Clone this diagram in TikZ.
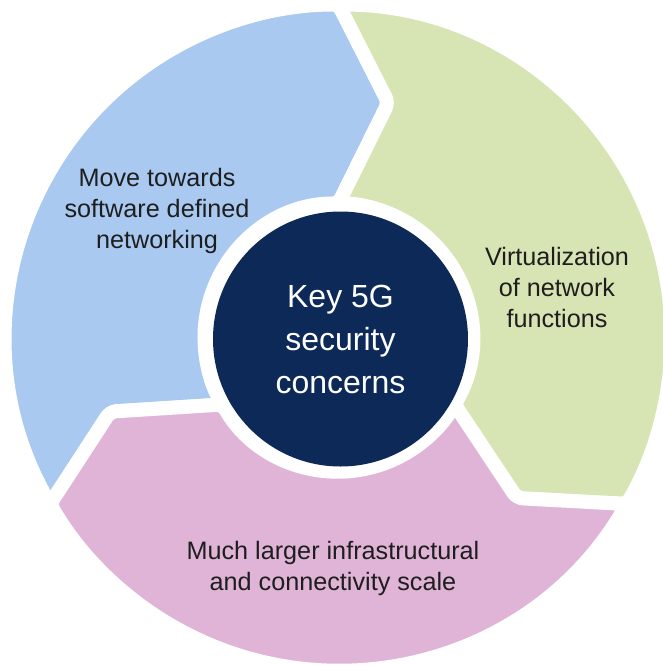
\documentclass[tikz,border=0pt]{standalone}
\usepackage{fontspec}
\setmainfont{Liberation Sans}
\definecolor{sdnblue}{RGB}{169,201,241}
\definecolor{nfvgreen}{RGB}{215,228,180}
\definecolor{scalepink}{RGB}{224,180,214}
\definecolor{keynavy}{RGB}{12,41,88}
\definecolor{labelgray}{RGB}{30,30,30}
\begin{document}
\begin{tikzpicture}[x=0.5pt, y=0.5pt,
    ringpart/.style = {draw=white, line width=7pt, line join=round, rounded corners=3pt},
    partlabel/.style = {align=center, text=labelgray, font=\fontsize{12.6}{15.5}\selectfont},
    keycircle/.style = {circle, fill=keynavy, draw=none, minimum size=127.5pt, align=center,
                        text=white, font=\fontsize{16}{21.5}\selectfont}]
    \useasboundingbox (-338.5,-328.5) rectangle (324.5,337.5);
    % three arrow parts of the ring, clockwise
    \foreach \a/\c in {210/sdnblue, 90/nfvgreen, -30/scalepink}
      \filldraw[ringpart, fill=\c] (\a:333) arc[start angle=\a, end angle=\a-120, radius=333]
        -- ({\a-132}:240) -- ({\a-120}:134) arc[start angle=\a-120, end angle=\a, radius=134]
        -- ({\a-12}:240) -- cycle;
    \node[keycircle] (key) at (2,-1.5) {Key 5G\\security\\concerns};
    \node[partlabel] (sdn) at (-181.5,126.5) {Move towards\\software defined\\networking};
    \node[partlabel] (nfv) at (218.5,50.5) {Virtualization\\of network\\functions};
    \node[partlabel] (scale) at (-5.5,-230.5) {Much larger infrastructural\\and connectivity scale};
\end{tikzpicture}
\end{document}
